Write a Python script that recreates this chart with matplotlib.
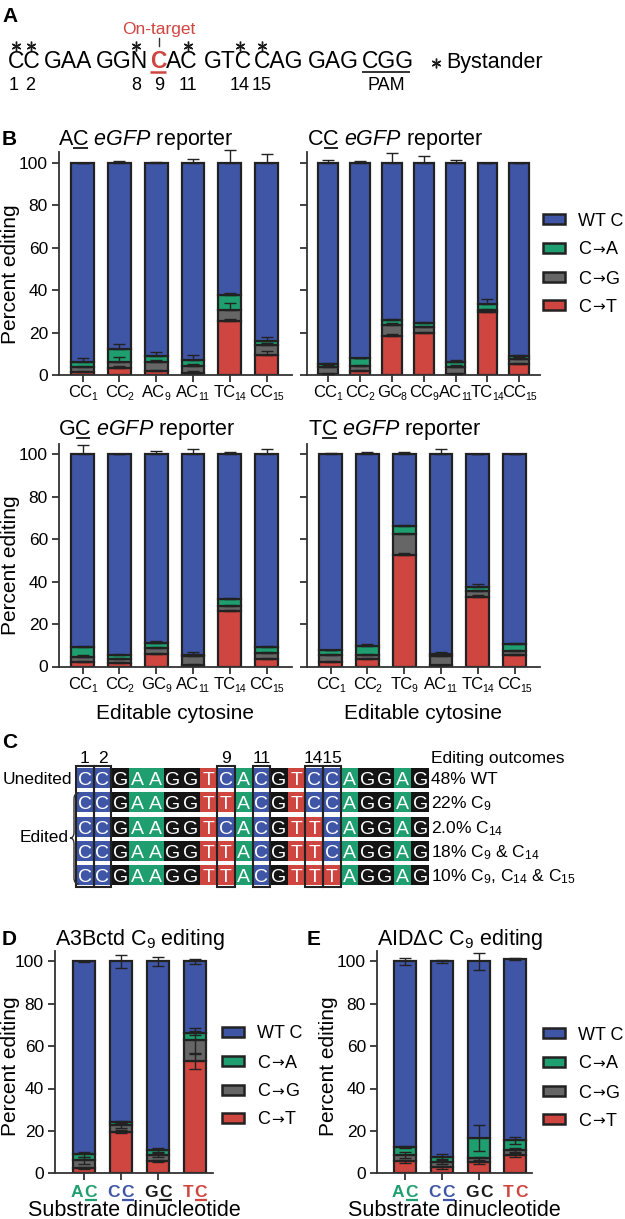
import re
import numpy as np
import matplotlib
matplotlib.use("Agg")
import matplotlib.pyplot as plt
from matplotlib.patches import Rectangle, PathPatch
from matplotlib.path import Path

plt.rcParams["font.family"] = ["Liberation Sans", "DejaVu Sans"]
plt.rcParams["mathtext.fontset"] = "custom"
plt.rcParams["mathtext.rm"] = "Liberation Sans"
plt.rcParams["mathtext.it"] = "Liberation Sans:italic"
plt.rcParams["mathtext.bf"] = "Liberation Sans:bold"

W, H = 625, 1219
BLUE = "#3f56a6"
GREEN = "#1f9e6f"
GREY = "#666666"
RED = "#cf4540"
EDGE = "#222222"

# ---- data ----
legend_labels = [("WT C", None, None), ("C", "\u2192", "A"), ("C", "\u2192", "G"), ("C", "\u2192", "T")]
legend_colors = [BLUE, GREEN, GREY, RED]

# B: AC eGFP reporter
ac_sites = ["CC1", "CC2", "AC9", "AC11", "TC14", "CC15"]
ac_wt = [94.0, 87.9, 90.9, 93.1, 62.1, 84.0]
ac_ca = [2.4, 6.1, 3.1, 2.5, 7.4, 1.7]
ac_cg = [2.2, 2.9, 4.0, 3.3, 5.0, 4.9]
ac_ct = [1.4, 3.1, 2.0, 1.1, 25.5, 9.4]
ac_wt_err = [0.2, 0.8, 0.3, 1.7, 6.3, 4.4]
ac_ca_err = [2.2, 2.4, 1.6, 2.7, 1.0, 2.0]
ac_cg_err = [0.6, 2.6, 1.0, 1.0, 3.3, 1.0]
ac_ct_err = [0.5, 1.1, 0.5, 0.8, 1.0, 2.1]

# B: CC eGFP reporter
cc_sites = ["CC1", "CC2", "GC8", "CC9", "AC11", "TC14", "CC15"]
cc_wt = [94.8, 92.1, 74.2, 75.5, 93.9, 66.7, 91.0]
cc_ca = [1.2, 3.7, 2.4, 2.0, 2.2, 2.5, 1.5]
cc_cg = [3.5, 2.3, 5.0, 2.8, 3.3, 1.2, 2.3]
cc_ct = [0.5, 1.9, 18.4, 19.7, 0.6, 29.6, 5.2]
cc_wt_err = [1.5, 0.8, 4.9, 3.2, 1.5, 0.2, 0.2]
cc_ca_err = [0.6, 0.3, 0.4, 0.4, 1.0, 2.4, 0.5]
cc_cg_err = [0.8, 0.6, 1.0, 0.8, 0.8, 0.5, 0.8]
cc_ct_err = [0.3, 0.5, 0.8, 0.8, 0.3, 1.0, 0.6]

# B: GC eGFP reporter
gc_sites = ["CC1", "CC2", "GC9", "AC11", "TC14", "CC15"]
gc_wt = [91.0, 94.6, 88.7, 94.4, 68.0, 91.0]
gc_ca = [4.3, 1.8, 2.5, 0.8, 3.5, 2.7]
gc_cg = [2.7, 2.0, 3.0, 4.0, 2.5, 2.8]
gc_ct = [2.0, 1.6, 5.8, 0.8, 26.0, 3.5]
gc_wt_err = [4.5, 0.3, 1.8, 2.6, 1.3, 2.4]
gc_ca_err = [0.5, 0.4, 0.5, 1.2, 0.5, 0.5]
gc_cg_err = [0.6, 0.5, 0.6, 1.0, 0.5, 0.5]
gc_ct_err = [0.5, 0.4, 0.5, 0.3, 0.8, 0.5]

# B: TC eGFP reporter
tc_sites = ["CC1", "CC2", "TC9", "AC11", "TC14", "CC15"]
tc_wt = [92.4, 90.1, 33.7, 94.2, 62.7, 89.5]
tc_ca = [2.4, 4.4, 4.0, 0.8, 1.7, 3.1]
tc_cg = [3.2, 2.0, 9.7, 4.4, 2.7, 2.2]
tc_ct = [2.0, 3.5, 52.6, 0.6, 32.9, 5.2]
tc_wt_err = [0.5, 1.3, 1.0, 2.4, 0.3, 0.3]
tc_ca_err = [0.4, 0.5, 0.5, 1.2, 1.5, 0.5]
tc_cg_err = [0.5, 0.5, 0.5, 0.8, 0.5, 0.5]
tc_ct_err = [0.4, 0.5, 1.0, 0.3, 1.0, 0.5]

# D: A3Bctd C9 editing
a3b_subs = ["AC", "CC", "GC", "TC"]
a3b_wt = [91.0, 75.6, 89.0, 33.9]
a3b_ca = [2.9, 1.7, 2.5, 3.4]
a3b_cg = [3.7, 3.0, 2.7, 9.9]
a3b_ct = [2.4, 19.7, 5.8, 52.8]
a3b_wt_err = [0.2, 3.1, 2.0, 1.1]
a3b_ca_err = [1.2, 0.5, 0.8, 1.0]
a3b_cg_err = [1.5, 1.2, 1.0, 6.0]
a3b_ct_err = [0.5, 0.8, 0.5, 3.5]

# E: AIDdC C9 editing
aid_subs = ["AC", "CC", "GC", "TC"]
aid_wt = [87.4, 92.1, 83.4, 85.6]
aid_ca = [3.9, 2.7, 9.5, 4.4]
aid_cg = [3.0, 2.4, 1.9, 2.4]
aid_ct = [5.7, 2.8, 5.2, 8.7]
aid_wt_err = [1.6, 0.8, 4.0, 0.3]
aid_ca_err = [0.5, 1.3, 6.2, 1.5]
aid_cg_err = [1.5, 1.0, 0.8, 1.0]
aid_ct_err = [0.8, 0.8, 0.8, 0.8]

sub_colors = {"A": GREEN, "C": BLUE, "G": "#1a1a1a", "T": RED}
a3b_underline = [True, True, True, True]
aid_underline = [True, True, False, False]

# C: sequence outcomes
seq_rows = ["CCGAAGGTCACGTCCAGGAG",
            "CCGAAGGTTACGTCCAGGAG",
            "CCGAAGGTCACGTTCAGGAG",
            "CCGAAGGTTACGTTCAGGAG",
            "CCGAAGGTTACGTTTAGGAG"]
outcome_labels = ["48% WT",
                  r"22% C$\mathregular{_{9}}$",
                  r"2.0% C$\mathregular{_{14}}$",
                  r"18% C$\mathregular{_{9}}$ & C$\mathregular{_{14}}$",
                  r"10% C$\mathregular{_{9}}$, C$\mathregular{_{14}}$ & C$\mathregular{_{15}}$"]
boxed_positions = [1, 2, 9, 11, 14, 15]
base_colors = {"A": GREEN, "C": BLUE, "G": "#141414", "T": RED}

# ---- figure ----
fig = plt.figure(figsize=(W / 100, H / 100), dpi=100)
ov = fig.add_axes([0, 0, 1, 1], zorder=10)
ov.set_xlim(0, W)
ov.set_ylim(H, 0)
ov.axis("off")
ov.patch.set_alpha(0)
renderer = fig.canvas.get_renderer()

PX = 2.12  # pixels per percent


def px_axes(l, r, b):
    t = b - 105 * PX
    return fig.add_axes([l / W, 1 - b / H, (r - l) / W, (b - t) / H])


def text_width(s, size, **kw):
    t = ov.text(0, 0, s, fontsize=size, **kw)
    w = t.get_window_extent(renderer).width
    t.remove()
    return w


def stacked(ax, wt, ca, cg, ct, errs, sym, width=0.62):
    n = len(wt)
    x = np.arange(n)
    bottom = np.zeros(n)
    for vals, err, col in [(ct, errs[3], RED), (cg, errs[2], GREY),
                           (ca, errs[1], GREEN), (wt, errs[0], BLUE)]:
        vals = np.array(vals, dtype=float)
        ax.bar(x, vals, bottom=bottom, width=width, color=col, edgecolor=EDGE,
               linewidth=1.6, zorder=2)
        top = bottom + vals
        err = np.array(err, dtype=float)
        lower = err if sym else np.zeros(n)
        eb = ax.errorbar(x, top, yerr=[lower, err], fmt="none", ecolor=EDGE,
                         elinewidth=1.0, capsize=4, capthick=1.0, zorder=3)
        for art in list(eb.lines[1]) + list(eb.lines[2]):
            art.set_clip_on(False)
        bottom = top


def style(ax, xlim, ylabels=True):
    ax.set_xlim(*xlim)
    ax.set_ylim(0, 105)
    ax.set_yticks([0, 20, 40, 60, 80, 100])
    ax.set_xticks(np.arange(int(round(xlim[1]))))
    ax.set_xticklabels([])
    for s in ["top", "right"]:
        ax.spines[s].set_visible(False)
    for s in ["left", "bottom"]:
        ax.spines[s].set_linewidth(1.3)
        ax.spines[s].set_color("#333333")
    ax.tick_params(length=5, width=1.3, color="#333333", labelsize=12.5, pad=3,
                   labelleft=ylabels)


def bar_px(ax, i):
    return ax.transData.transform((i, 0))[0]


def legend(x, ys, size=13):
    for y, lab, col in zip(ys, legend_labels, legend_colors):
        ov.add_patch(Rectangle((x, y - 5), 22, 10, facecolor=col, edgecolor=EDGE, lw=1.8))
        base = y + 6.5
        if lab[1] is None:
            ov.text(x + 35, base, lab[0], fontsize=size, ha="left", va="baseline")
            continue
        xx = x + 35
        t = ov.text(xx, base, lab[0], fontsize=size, ha="left", va="baseline")
        xx += t.get_window_extent(renderer).width + 1
        t = ov.text(xx, base - 0.5, lab[1], fontsize=size - 2, ha="left", va="baseline",
                    family=["DejaVu Sans"])
        xx += t.get_window_extent(renderer).width + 1
        ov.text(xx, base, lab[2], fontsize=size, ha="left", va="baseline")


def site_labels(ax, sites, baseline, size=12, sub_size=7.5):
    for i, s in enumerate(sites):
        m = re.match(r"([A-Z]+)(\d+)$", s)
        wb = text_width(m.group(1), size)
        ws = text_width(m.group(2), sub_size)
        x0 = bar_px(ax, i) - (wb + ws - 1) / 2
        ov.text(x0, baseline, m.group(1), fontsize=size, ha="left", va="baseline")
        ov.text(x0 + wb - 1, baseline + 3.5, m.group(2), fontsize=sub_size,
                ha="left", va="baseline")


def title_ul(x, y, text, first, size=15.5):
    # text whose second letter is underlined
    ov.text(x, y, text, fontsize=size, ha="left", va="baseline")
    w1 = text_width(first[0], size)
    w2 = text_width(first, size)
    ov.plot([x + w1 + 1, x + w2], [y + 2.5] * 2, color="black", lw=1.2,
            solid_capstyle="butt")


# ---- panel A ----
ov.text(2, 22, "A", fontsize=15, fontweight="bold", va="baseline")
seq_size = 16.5
seq_groups = ["CC", "GAA", "GGN", "AC", "GTC", "CAG", "GAG", "CGG"]
seq_lefts = [8, 44, 96, 166, 204, 254, 308, 362]
for g, xl in zip(seq_groups, seq_lefts):
    ov.text(xl, 68, g, fontsize=seq_size, ha="left", va="baseline")
ov.text(150, 68, "C", fontsize=seq_size, ha="left", va="baseline",
        color=RED, fontweight="bold")
ov.plot([150, 166], [71.5, 71.5], color=RED, lw=1.8, solid_capstyle="butt")
ov.plot([362, 410], [72, 72], color="#222222", lw=1.3, solid_capstyle="butt")
bystander_x = [16, 31, 136, 188, 240, 262]
ov.plot(bystander_x, [46] * len(bystander_x), linestyle="none", marker=(6, 2, 0),
        markersize=7, color="#1a1a1a", markeredgewidth=1.0)
ov.text(159, 34, "On-target", fontsize=12.5, ha="center", va="baseline", color=RED)
ov.plot([159, 159], [38, 46], color="#333333", lw=1.0)
for lab, xc in [("1", 14), ("2", 30), ("8", 136), ("9", 159), ("11", 188),
                ("14", 240), ("15", 262), ("PAM", 386)]:
    ov.text(xc, 90, lab, fontsize=13, ha="center", va="baseline")
ov.plot([436], [63], linestyle="none", marker=(6, 2, 0), markersize=7,
        color="#1a1a1a", markeredgewidth=1.0)
ov.text(446, 68, "Bystander", fontsize=15.5, ha="left", va="baseline")

# ---- panel B ----
ov.text(2, 145, "B", fontsize=15, fontweight="bold", va="baseline")

ax1 = px_axes(59, 292, 375)
stacked(ax1, ac_wt, ac_ca, ac_cg, ac_ct, [ac_wt_err, ac_ca_err, ac_cg_err, ac_ct_err], False)
style(ax1, (-0.64, 5.69))
site_labels(ax1, ac_sites, 397)
title_ul(58, 145, r"AC $\mathit{eGFP}$ reporter", "AC")

ax2 = px_axes(307, 540, 375)
stacked(ax2, cc_wt, cc_ca, cc_cg, cc_ct, [cc_wt_err, cc_ca_err, cc_cg_err, cc_ct_err], False)
style(ax2, (-0.66, 6.65), ylabels=False)
site_labels(ax2, cc_sites, 397)
title_ul(307, 145, r"CC $\mathit{eGFP}$ reporter", "CC")
legend(543, [219, 248, 277, 305])

ax3 = px_axes(59, 292, 666.5)
stacked(ax3, gc_wt, gc_ca, gc_cg, gc_ct, [gc_wt_err, gc_ca_err, gc_cg_err, gc_ct_err], False)
style(ax3, (-0.64, 5.69))
site_labels(ax3, gc_sites, 689)
title_ul(58, 435, r"GC $\mathit{eGFP}$ reporter", "GC")

ax4 = px_axes(307, 540, 666.5)
stacked(ax4, tc_wt, tc_ca, tc_cg, tc_ct, [tc_wt_err, tc_ca_err, tc_cg_err, tc_ct_err], False)
style(ax4, (-0.64, 5.69), ylabels=False)
site_labels(ax4, tc_sites, 689)
title_ul(308, 435, r"TC $\mathit{eGFP}$ reporter", "TC")

ov.text(11, 274, "Percent editing", fontsize=15, rotation=90, ha="center", va="center")
ov.text(11, 565, "Percent editing", fontsize=15, rotation=90, ha="center", va="center")
ov.text(175.5, 719, "Editable cytosine", fontsize=15, ha="center", va="baseline")
ov.text(423.5, 719, "Editable cytosine", fontsize=15, ha="center", va="baseline")

# ---- panel C ----
ov.text(2, 748, "C", fontsize=15, fontweight="bold", va="baseline")
cx0, cw, ry0, rpitch, rh = 76, 17.65, 768, 24.3, 20
for i, row in enumerate(seq_rows):
    top = ry0 + i * rpitch
    for j, b in enumerate(row):
        ov.add_patch(Rectangle((cx0 + j * cw, top), cw, rh, facecolor=base_colors[b],
                               edgecolor="none"))
        ov.text(cx0 + (j + 0.5) * cw, top + rh / 2 + 7.0, b, fontsize=14,
                color="white", ha="center", va="baseline")
    ov.text(431, top + rh / 2 + 6.3, outcome_labels[i], fontsize=12.5,
            ha="left", va="baseline")
for p in boxed_positions:
    ov.add_patch(Rectangle((cx0 + (p - 1) * cw, ry0 - 2), cw, 4 * rpitch + rh + 4,
                           facecolor="none", edgecolor=EDGE, lw=1.5))
for lab, p in [("1", 1), ("2", 2), ("9", 9), ("11", 11)]:
    ov.text(cx0 + (p - 0.5) * cw, 763, lab, fontsize=12.5, ha="center", va="baseline")
ov.text(cx0 + 14 * cw, 763, "1415", fontsize=12.5, ha="center", va="baseline")
ov.text(431, 763, "Editing outcomes", fontsize=12.5, ha="left", va="baseline")
ov.text(72, 784, "Unedited", fontsize=12.5, ha="right", va="baseline")
ov.text(69, 842, "Edited", fontsize=12.5, ha="right", va="baseline")
brace = Path([(79, 793), (74, 793), (74, 799), (74, 832), (74, 838), (70, 838),
              (74, 838), (74, 844), (74, 878), (74, 884), (79, 884)],
             [Path.MOVETO, Path.CURVE3, Path.CURVE3, Path.LINETO, Path.CURVE3, Path.CURVE3,
              Path.CURVE3, Path.CURVE3, Path.LINETO, Path.CURVE3, Path.CURVE3])
ov.add_patch(PathPatch(brace, facecolor="none", edgecolor="#333333", lw=1.0))

# ---- panels D and E ----


def sub_ticks(ax, subs, underline, baseline=1197, size=12.5):
    for i, s in enumerate(subs):
        col = sub_colors[s[0]]
        w1 = text_width(s[0], size, fontweight="bold")
        w2 = text_width(s[1], size, fontweight="bold")
        gap = 1.5
        x0 = bar_px(ax, i) - (w1 + gap + w2) / 2
        ov.text(x0, baseline, s[0], fontsize=size, fontweight="bold", color=col,
                ha="left", va="baseline")
        ov.text(x0 + w1 + gap, baseline, s[1], fontsize=size, fontweight="bold", color=col,
                ha="left", va="baseline")
        if underline[i]:
            ov.plot([x0 + w1 + gap, x0 + w1 + gap + w2], [baseline + 3] * 2, color=col,
                    lw=1.6, solid_capstyle="butt")


ov.text(2, 945, "D", fontsize=15, fontweight="bold", va="baseline")
axd = px_axes(55, 213, 1173.3)
stacked(axd, a3b_wt, a3b_ca, a3b_cg, a3b_ct, [a3b_wt_err, a3b_ca_err, a3b_cg_err, a3b_ct_err], True, width=0.6)
style(axd, (-0.78, 3.49))
sub_ticks(axd, a3b_subs, a3b_underline)
ov.text(55, 945, r"A3Bctd C$\mathregular{_{9}}$ editing", fontsize=15.5, ha="left", va="baseline")
ov.text(11, 1066, "Percent editing", fontsize=15, rotation=90, ha="center", va="center")
ov.text(134, 1216, "Substrate dinucleotide", fontsize=15.5, ha="center", va="baseline")
legend(222, [1032, 1061, 1090, 1118])

ov.text(307, 945, "E", fontsize=15, fontweight="bold", va="baseline")
axe = px_axes(377, 532, 1173.3)
stacked(axe, aid_wt, aid_ca, aid_cg, aid_ct, [aid_wt_err, aid_ca_err, aid_cg_err, aid_ct_err], True, width=0.6)
style(axe, (-0.76, 3.45))
sub_ticks(axe, aid_subs, aid_underline)
ov.text(377, 945, "AID\u0394C C$\\mathregular{_{9}}$ editing", fontsize=15.5, ha="left", va="baseline")
ov.text(329, 1066, "Percent editing", fontsize=15, rotation=90, ha="center", va="center")
ov.text(454.5, 1216, "Substrate dinucleotide", fontsize=15.5, ha="center", va="baseline")
legend(543, [1033, 1062, 1091, 1119])

fig.savefig("out.png", dpi=100)
